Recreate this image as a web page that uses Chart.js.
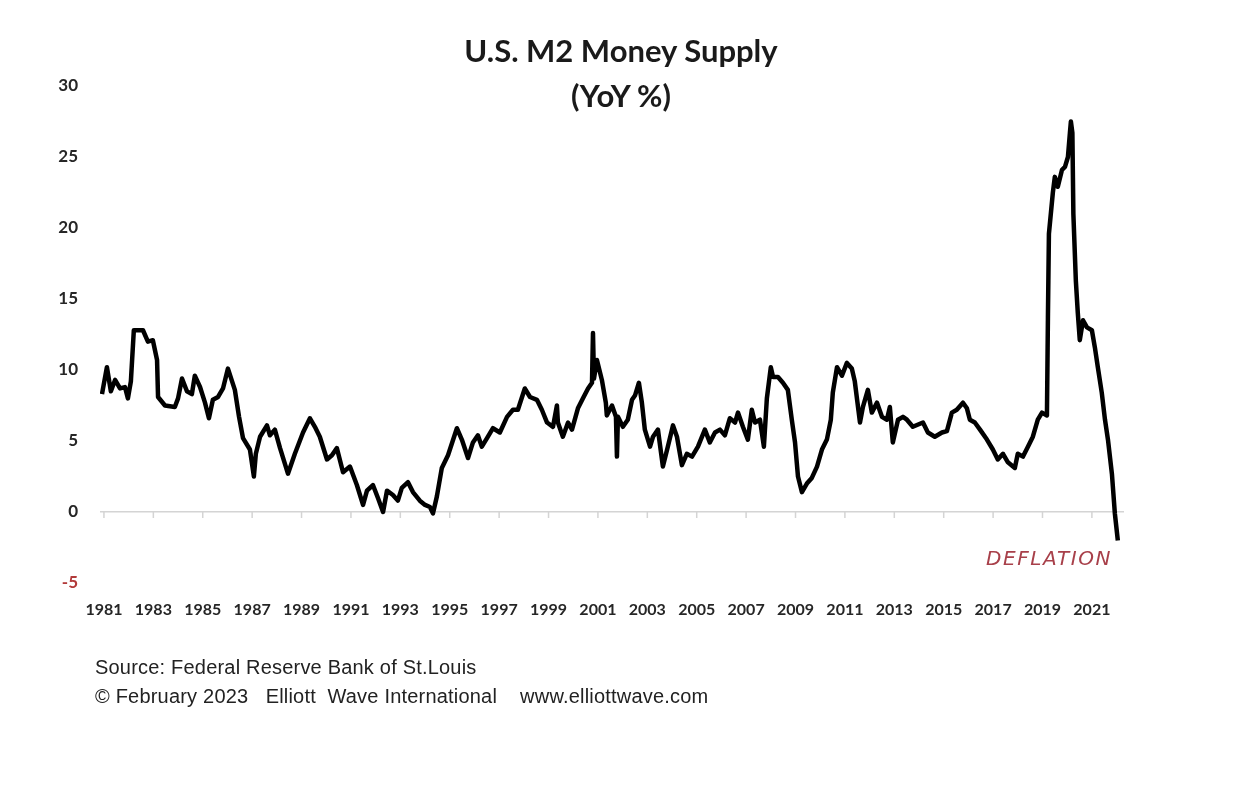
<!DOCTYPE html>
<html>
<head>
<meta charset="utf-8">
<script src="https://cdn.jsdelivr.net/npm/chart.js@4/dist/chart.umd.min.js"></script>
<style>
  html, body { margin: 0; padding: 0; background: #fff; }
  #wrap { position: relative; width: 1242px; height: 791px; overflow: hidden; }
  #chart { position: absolute; left: 0; top: 0; }
  .title {
    position: absolute; left: 0; top: 28px; width: 1242px;
    text-align: center; font-family: Lato, sans-serif; font-weight: bold;
    font-size: 31px; line-height: 45px; color: #1a1a1a;
  }
  .source {
    position: absolute; left: 95px; top: 653px;
    font-family: "Liberation Sans", Arial, sans-serif; font-size: 20px;
    letter-spacing: 0.2px; line-height: 29px; color: #222; white-space: pre;
  }
  .deflation {
    position: absolute; left: 986px; top: 545px;
    font-family: "DejaVu Sans", sans-serif; font-style: italic;
    font-size: 20px; line-height: 26px; color: #a8404a; letter-spacing: 1.6px;
  }
</style>
</head>
<body>
<div id="wrap">
  <canvas id="chart" width="1242" height="791"></canvas>
  <div class="title">U.S. M2 Money Supply<br>(YoY %)</div>
  <div class="source">Source: Federal Reserve Bank of St.Louis
© February 2023   Elliott  Wave International    www.elliottwave.com</div>
  <div class="deflation">DEFLATION</div>
</div>
<script>
// values (decimal year as plotted, YoY %)
const years = [
  1980.92, 1981.12, 1981.28, 1981.45, 1981.65, 1981.85, 1981.97, 1982.09, 1982.21, 1982.58,
  1982.78, 1982.98, 1983.15, 1983.19, 1983.47, 1983.87, 1984.00, 1984.16, 1984.36, 1984.56,
  1984.68, 1984.89, 1985.09, 1985.25, 1985.41, 1985.62, 1985.82, 1986.02, 1986.30, 1986.47,
  1986.63, 1986.91, 1987.07, 1987.15, 1987.32, 1987.60, 1987.72, 1987.92, 1988.13, 1988.45,
  1988.73, 1989.06, 1989.34, 1989.54, 1989.74, 1990.03, 1990.23, 1990.43, 1990.68, 1990.96,
  1991.24, 1991.49, 1991.65, 1991.89, 1992.09, 1992.30, 1992.46, 1992.70, 1992.90, 1993.06,
  1993.31, 1993.51, 1993.79, 1994.00, 1994.20, 1994.32, 1994.48, 1994.68, 1994.93, 1995.29,
  1995.49, 1995.74, 1995.94, 1996.14, 1996.30, 1996.51, 1996.75, 1997.03, 1997.32, 1997.56,
  1997.76, 1998.04, 1998.25, 1998.53, 1998.73, 1998.94, 1999.18, 1999.34, 1999.38, 1999.58,
  1999.79, 1999.95, 2000.19, 2000.39, 2000.60, 2000.76, 2000.80, 2000.84, 2000.96, 2001.16,
  2001.32, 2001.36, 2001.57, 2001.73, 2001.77, 2001.81, 2002.01, 2002.21, 2002.38, 2002.50,
  2002.66, 2002.78, 2002.90, 2003.11, 2003.23, 2003.43, 2003.63, 2003.83, 2004.04, 2004.20,
  2004.40, 2004.60, 2004.81, 2005.05, 2005.33, 2005.53, 2005.74, 2005.94, 2006.14, 2006.34,
  2006.55, 2006.67, 2006.87, 2007.07, 2007.23, 2007.36, 2007.56, 2007.72, 2007.84, 2008.00,
  2008.09, 2008.29, 2008.49, 2008.69, 2008.85, 2008.98, 2009.10, 2009.26, 2009.46, 2009.66,
  2009.87, 2010.07, 2010.27, 2010.43, 2010.51, 2010.68, 2010.88, 2011.08, 2011.28, 2011.40,
  2011.61, 2011.73, 2011.93, 2012.09, 2012.30, 2012.50, 2012.70, 2012.82, 2012.94, 2013.15,
  2013.35, 2013.51, 2013.75, 2014.16, 2014.36, 2014.64, 2014.93, 2015.13, 2015.33, 2015.53,
  2015.78, 2015.94, 2016.06, 2016.26, 2016.47, 2016.75, 2016.99, 2017.19, 2017.40, 2017.60,
  2017.88, 2018.00, 2018.21, 2018.41, 2018.61, 2018.81, 2018.98, 2019.18, 2019.22, 2019.26,
  2019.42, 2019.50, 2019.62, 2019.79, 2019.91, 2020.03, 2020.11, 2020.15, 2020.21, 2020.25,
  2020.35, 2020.43, 2020.51, 2020.64, 2020.80, 2021.00, 2021.12, 2021.24, 2021.40, 2021.53,
  2021.65, 2021.81, 2021.93, 2022.05
];
const m2Yoy = [
  8.3, 10.2, 8.5, 9.3, 8.7, 8.8, 8.0, 9.2, 12.8, 12.8,
  12.0, 12.1, 10.7, 8.1, 7.5, 7.4, 8.0, 9.4, 8.5, 8.3,
  9.6, 8.8, 7.7, 6.6, 7.9, 8.1, 8.7, 10.1, 8.6, 6.7,
  5.2, 4.4, 2.5, 4.1, 5.3, 6.1, 5.4, 5.8, 4.5, 2.7,
  4.1, 5.6, 6.6, 6.0, 5.3, 3.7, 4.0, 4.5, 2.8, 3.2,
  1.9, 0.5, 1.5, 1.9, 1.0, 0.0, 1.5, 1.2, 0.8, 1.7,
  2.1, 1.4, 0.8, 0.5, 0.35, -0.1, 1.1, 3.1, 4.0, 5.9,
  5.1, 3.8, 4.9, 5.4, 4.6, 5.2, 5.9, 5.6, 6.7, 7.2,
  7.2, 8.7, 8.1, 7.9, 7.2, 6.3, 6.0, 7.5, 6.3, 5.3,
  6.3, 5.8, 7.3, 8.0, 8.7, 9.1, 12.6, 9.4, 10.7, 9.3,
  7.7, 6.8, 7.5, 6.7, 3.9, 6.7, 6.0, 6.5, 7.9, 8.2,
  9.1, 7.7, 5.8, 4.6, 5.3, 5.8, 3.2, 4.6, 6.1, 5.3,
  3.3, 4.1, 3.9, 4.6, 5.8, 4.9, 5.6, 5.8, 5.4, 6.6,
  6.3, 7.0, 6.0, 5.1, 7.2, 6.3, 6.5, 4.6, 8.0, 10.2,
  9.5, 9.5, 9.1, 8.6, 6.5, 4.9, 2.5, 1.4, 2.0, 2.4,
  3.2, 4.4, 5.1, 6.5, 8.4, 10.2, 9.6, 10.5, 10.1, 9.2,
  6.3, 7.4, 8.6, 7.0, 7.7, 6.7, 6.5, 7.4, 4.9, 6.5,
  6.7, 6.5, 6.0, 6.3, 5.6, 5.3, 5.6, 5.7, 7.0, 7.2,
  7.7, 7.3, 6.5, 6.3, 5.8, 5.1, 4.4, 3.7, 4.1, 3.5,
  3.1, 4.1, 3.9, 4.6, 5.3, 6.5, 7.0, 6.8, 13.7, 19.6,
  22.5, 23.6, 22.9, 24.1, 24.3, 25.0, 26.7, 27.5, 26.7, 21.0,
  16.3, 14.0, 12.1, 13.5, 13.0, 12.8, 11.6, 10.2, 8.4, 6.5,
  5.1, 2.7, -0.1, -2.0
];
const xTickYears = [1981, 1983, 1985, 1987, 1989, 1991, 1993, 1995, 1997, 1999, 2001,
  2003, 2005, 2007, 2009, 2011, 2013, 2015, 2017, 2019, 2021];
const yTicks = [-5, 0, 5, 10, 15, 20, 25, 30];

// small tick marks hanging from the zero line
const zeroTicks = {
  id: 'zeroTicks',
  beforeDatasetsDraw(chart) {
    const ctx = chart.ctx;
    const x = chart.scales.x, y = chart.scales.y;
    const y0 = y.getPixelForValue(0);
    ctx.save();
    ctx.strokeStyle = '#d4d4d4';
    ctx.lineWidth = 1.5;
    xTickYears.forEach(v => {
      const px = x.getPixelForValue(v);
      ctx.beginPath();
      ctx.moveTo(px, y0);
      ctx.lineTo(px, y0 + 6);
      ctx.stroke();
    });
    ctx.restore();
  }
};

const ctx = document.getElementById('chart').getContext('2d');
new Chart(ctx, {
  type: 'line',
  data: {
    datasets: [{
      data: years.map((yr, i) => ({ x: yr, y: m2Yoy[i] })),
      borderColor: '#000',
      borderWidth: 4.5,
      pointRadius: 0,
      tension: 0,
      borderJoinStyle: 'round',
      fill: false
    }]
  },
  options: {
    responsive: false,
    animation: false,
    layout: { padding: { left: 0, right: 118, top: 86, bottom: 172 } },
    plugins: { legend: { display: false }, tooltip: { enabled: false } },
    scales: {
      x: {
        type: 'linear',
        min: 1980.84,
        max: 2022.3,
        afterBuildTicks: axis => { axis.ticks = xTickYears.map(v => ({ value: v })); },
        afterFit: axis => { axis.height = 36; },
        grid: { display: false, drawTicks: false },
        border: { display: false },
        ticks: {
          padding: 17,
          maxRotation: 0,
          autoSkip: false,
          color: '#262626',
          font: { family: 'Lato', weight: 'bold', size: 16 },
          callback: v => String(v)
        }
      },
      y: {
        min: -5,
        max: 30,
        afterBuildTicks: axis => { axis.ticks = yTicks.map(v => ({ value: v })); },
        afterFit: axis => { axis.width = 100; },
        grid: {
          drawTicks: false,
          lineWidth: 1.5,
          color: c => (c.tick && c.tick.value === 0) ? '#d4d4d4' : 'rgba(0,0,0,0)'
        },
        border: { display: false },
        ticks: {
          padding: 22,
          color: c => c.tick.value < 0 ? '#b23a3a' : '#262626',
          font: { family: 'Lato', weight: 'bold', size: 17 },
          callback: v => String(v)
        }
      }
    }
  },
  plugins: [zeroTicks]
});
</script>
</body>
</html>
